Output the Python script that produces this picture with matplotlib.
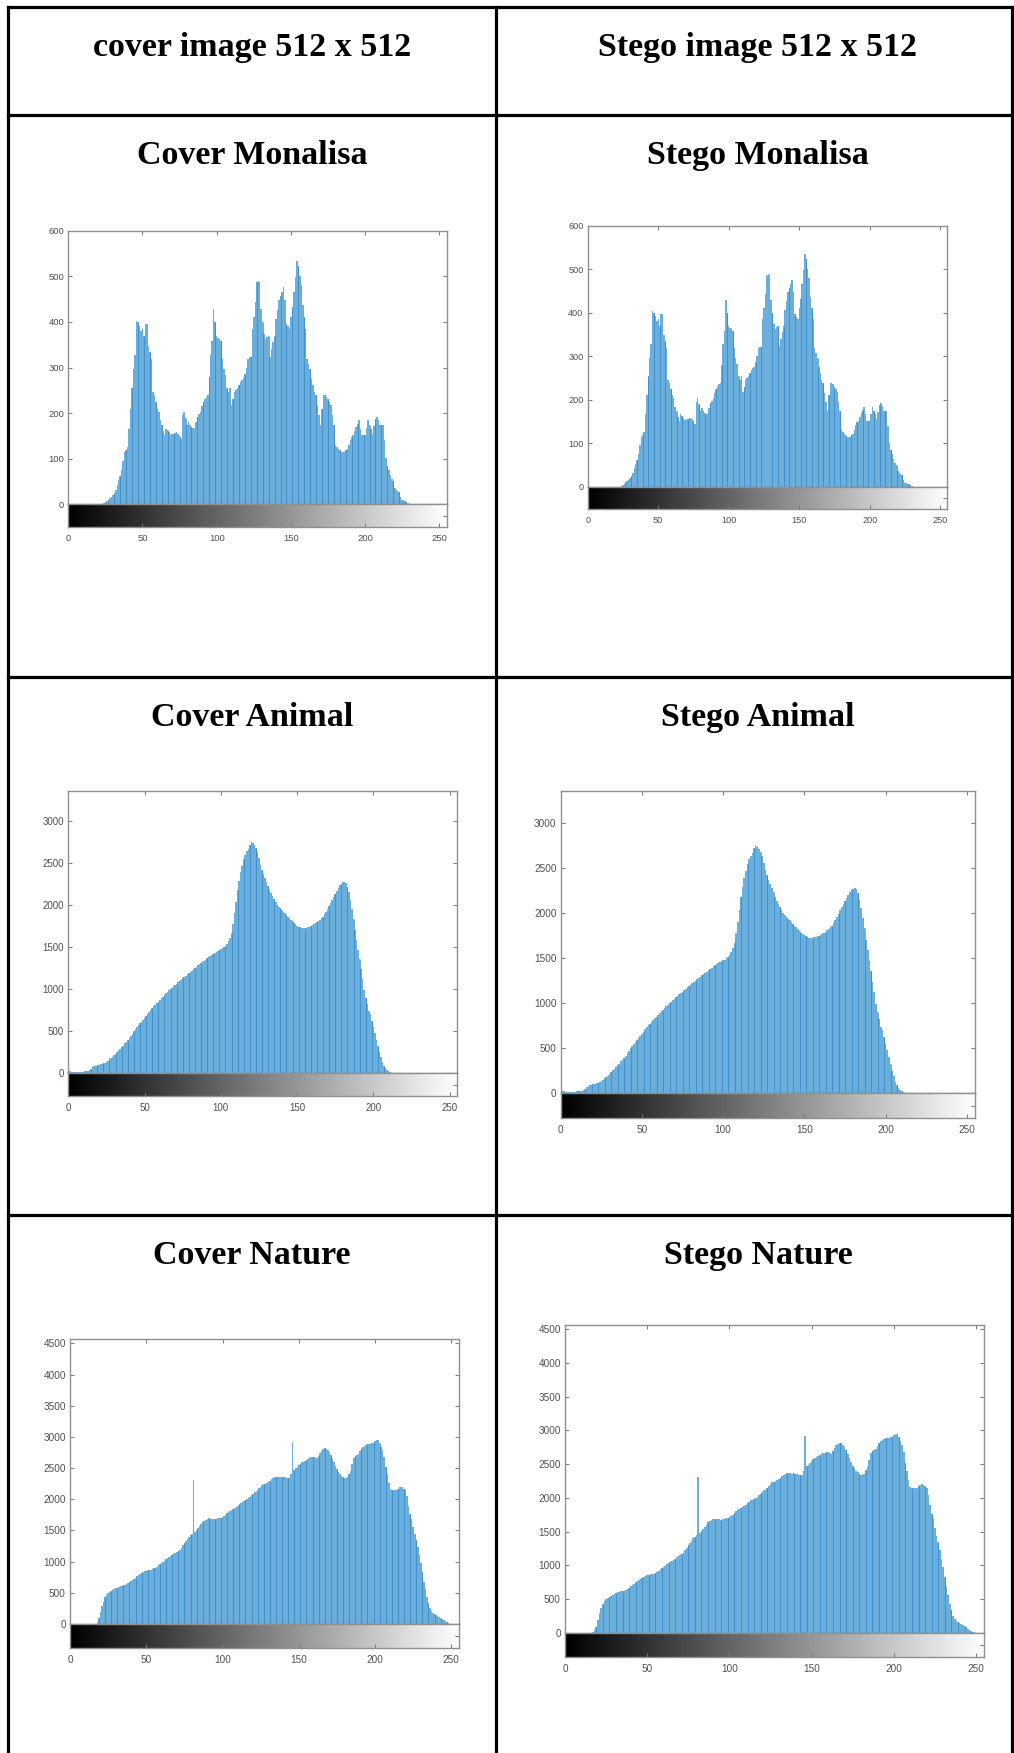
import numpy as np
import matplotlib
matplotlib.use("Agg")
import matplotlib.pyplot as plt
from matplotlib.lines import Line2D

plt.rcParams['font.family'] = ['Liberation Sans', 'DejaVu Sans']

# ---------------- data ----------------
header_labels = ["cover image 512 x 512", "Stego image 512 x 512"]
row_titles = [("Cover Monalisa", "Stego Monalisa"),
              ("Cover Animal", "Stego Animal"),
              ("Cover Nature", "Stego Nature")]

x_ticks = [0, 50, 100, 150, 200, 250]

monalisa_counts = [0] * 24 + [
    2, 4, 7, 10, 13, 16, 20, 25, 31, 42,
    53, 62, 75, 95, 115, 120, 125, 166, 210, 255,
    297, 327, 403, 400, 392, 381, 385, 370, 396, 396,
    348, 334, 319, 246, 239, 225, 210, 203, 184, 173,
    160, 152, 166, 163, 158, 153, 155, 155, 157, 159,
    155, 150, 144, 195, 203, 190, 173, 181, 175, 170,
    168, 166, 180, 192, 198, 203, 215, 224, 232, 236,
    239, 280, 327, 359, 429, 400, 370, 365, 362, 359,
    319, 297, 283, 254, 246, 254, 217, 230, 246, 250,
    254, 262, 268, 272, 276, 286, 300, 319, 322, 322,
    385, 410, 443, 487, 490, 487, 429, 400, 374, 363,
    366, 370, 323, 340, 355, 370, 407, 427, 447, 456,
    465, 476, 447, 396, 390, 385, 410, 432, 465, 498,
    534, 523, 500, 480, 436, 410, 385, 319, 308, 297,
    275, 261, 246, 239, 215, 195, 173, 210, 239, 239,
    235, 230, 225, 217, 195, 173, 130, 126, 122, 118,
    115, 115, 115, 118, 122, 130, 141, 148, 152, 160,
    170, 177, 184, 166, 152, 152, 152, 168, 184, 175,
    166, 155, 172, 188, 192, 185, 173, 173, 173, 140,
    101, 85, 75, 64, 55, 50, 35, 31, 29, 28,
    15, 9, 9, 7, 6, 3, 1] + [0] * 25

animal_counts = [
    20, 22, 20, 18, 15, 12, 10, 10, 12, 18,
    20, 24, 28, 30, 35, 50, 70, 85, 92, 96,
    99, 105, 112, 118, 125, 135, 150, 165, 178, 195,
    215, 235, 255, 272, 290, 310, 330, 355, 375, 395,
    416, 445, 470, 500, 525, 550, 570, 595, 615, 634,
    660, 685, 710, 733, 755, 775, 795, 815, 832, 852,
    872, 892, 912, 930, 950, 968, 985, 1000, 1018, 1035,
    1050, 1065, 1080, 1098, 1115, 1130, 1145, 1160, 1175, 1190,
    1205, 1220, 1235, 1252, 1268, 1282, 1296, 1310, 1325, 1338,
    1352, 1365, 1380, 1395, 1408, 1420, 1435, 1447, 1455, 1465,
    1475, 1485, 1500, 1515, 1535, 1570, 1610, 1665, 1780, 1900,
    2040, 2180, 2290, 2390, 2470, 2550, 2600, 2640, 2670, 2720,
    2755, 2740, 2715, 2680, 2630, 2560, 2480, 2420, 2370, 2320,
    2280, 2230, 2180, 2140, 2105, 2070, 2035, 2005, 1980, 1960,
    1940, 1922, 1900, 1880, 1860, 1843, 1825, 1805, 1785, 1770,
    1755, 1745, 1735, 1728, 1724, 1725, 1730, 1736, 1744, 1752,
    1760, 1772, 1785, 1795, 1808, 1825, 1845, 1863, 1890, 1920,
    1955, 1990, 2030, 2065, 2100, 2135, 2170, 2205, 2239, 2255,
    2270, 2279, 2265, 2220, 2150, 2060, 1950, 1830, 1705, 1590,
    1470, 1360, 1240, 1120, 990, 900, 820, 740, 700, 620,
    550, 476, 400, 320, 250, 190, 130, 90, 60, 40,
    28, 15, 8, 4, 2] + [0] * 41

nature_counts = [0] * 17 + [
    5, 40, 90,
    190, 290, 360, 430, 470, 495, 510, 530, 545, 556,
    570, 585, 599, 605, 612, 618, 625, 635, 650, 668,
    688, 705, 725, 745, 765, 786, 800, 815, 828, 842,
    855, 860, 866, 872, 876, 890, 905, 920, 940, 955,
    975, 995, 1015, 1037, 1052, 1068, 1085, 1100, 1118, 1135,
    1152, 1170, 1186, 1220, 1260, 1304, 1335, 1365, 1400, 1420,
    1445, 2310, 1480, 1515, 1540, 1570, 1605, 1641, 1655, 1668,
    1680, 1694, 1690, 1686, 1682, 1678, 1685, 1692, 1700, 1705,
    1710, 1730, 1750, 1775, 1801, 1818, 1835, 1850, 1866, 1881,
    1900, 1920, 1942, 1962, 1975, 1988, 2000, 2015, 2040, 2065,
    2090, 2110, 2122, 2150, 2175, 2200, 2229, 2240, 2252, 2265,
    2282, 2300, 2320, 2340, 2355, 2362, 2365, 2362, 2360, 2362,
    2355, 2350, 2345, 2340, 2336, 2400, 2920, 2470, 2495, 2520,
    2550, 2570, 2590, 2605, 2620, 2630, 2645, 2660, 2672, 2683,
    2675, 2665, 2656, 2700, 2745, 2780, 2805, 2817, 2810, 2790,
    2750, 2710, 2650, 2590, 2535, 2480, 2440, 2400, 2380, 2360,
    2345, 2336, 2360, 2410, 2460, 2560, 2660, 2690, 2705, 2720,
    2770, 2810, 2843, 2860, 2875, 2886, 2890, 2893, 2897, 2910,
    2930, 2945, 2950, 2900, 2840, 2790, 2680, 2523, 2400, 2260,
    2160, 2149, 2150, 2150, 2149, 2170, 2190, 2202, 2190, 2170,
    2149, 2050, 1900, 1760, 1680, 1560, 1440, 1347, 1230, 1100,
    973, 830, 680, 560, 430, 330, 250, 205, 180, 160,
    144, 128, 110, 95, 80, 60, 45, 25, 11, 5] + [0] * 6

# stego histograms are visually identical to the cover histograms
stego_monalisa_counts = monalisa_counts
stego_animal_counts = animal_counts
stego_nature_counts = nature_counts

monalisa_yticks = [0, 100, 200, 300, 400, 500, 600]
animal_yticks = [0, 500, 1000, 1500, 2000, 2500, 3000]
nature_yticks = [0, 500, 1000, 1500, 2000, 2500, 3000, 3500, 4000, 4500]

for arr in (monalisa_counts, animal_counts, nature_counts):
    assert len(arr) == 256, len(arr)

# ---------------- layout ----------------
W, H = 1014, 1753
fig = plt.figure(figsize=(W / 100, H / 100), dpi=100)
fig.patch.set_facecolor('white')


def rect(l, t, r, b):
    return [l / W, 1 - b / H, (r - l) / W, (b - t) / H]


def hline(y, x0, x1, lw=2.3):
    fig.add_artist(Line2D([x0 / W, x1 / W], [1 - y / H, 1 - y / H],
                          transform=fig.transFigure, color='black', lw=lw,
                          solid_capstyle='projecting'))


def vline(x, y0, y1, lw=2.3):
    fig.add_artist(Line2D([x / W, x / W], [1 - y0 / H, 1 - y1 / H],
                          transform=fig.transFigure, color='black', lw=lw,
                          solid_capstyle='projecting'))


# table grid
xl, xm, xr = 7.5, 496, 1012
for y in (7, 115, 677, 1215):
    hline(y, xl, xr)
for x in (xl, xm, xr):
    vline(x, 7, H + 5)

serif = dict(family='Liberation Serif', weight='bold', fontsize=24.5,
             ha='center', va='baseline', color='black')
fig.text(252 / W, 1 - 56 / H, header_labels[0], **serif)
fig.text(758 / W, 1 - 56 / H, header_labels[1], **serif)
for (lt, rt), yb in zip(row_titles, (164, 726, 1264)):
    fig.text(252 / W, 1 - yb / H, lt, **serif)
    fig.text(758 / W, 1 - yb / H, rt, **serif)

# histogram panels: data, ylim, yticks, (left, top, right, zero, cbar bottom), font
panels = [
    (monalisa_counts, 600, monalisa_yticks, (68.3, 230.7, 446.7, 504.3, 527.3), 6.8),
    (stego_monalisa_counts, 600, monalisa_yticks, (587.7, 225.7, 947.3, 486.7, 509.3), 6.6),
    (animal_counts, 3360, animal_yticks, (68.3, 790.7, 457.3, 1073.3, 1096.0), 7.0),
    (stego_animal_counts, 3360, animal_yticks, (560.7, 790.7, 975.0, 1093.3, 1118.3), 7.2),
    (nature_counts, 4565, nature_yticks, (70.0, 1339.3, 459.0, 1624.0, 1648.3), 7.2),
    (stego_nature_counts, 4565, nature_yticks, (565.0, 1325.0, 984.3, 1632.7, 1656.7), 7.2),
]

bar_color = '#6aaedc'
stripe_color = '#2f84c8'
spine_color = '#8f8f8f'
label_color = '#505050'
gradient = np.linspace(0, 1, 256)[None, :]

for counts, ymax, yt, (l, t, r, z, cb), fs in panels:
    bins = np.arange(256)
    vals = np.asarray(counts)
    ax = fig.add_axes(rect(l, t, r, z))
    ax.bar(bins, vals, width=1.0, color=bar_color, linewidth=0)
    sb = bins[3::4]
    ax.vlines(sb, 0, vals[sb], color=stripe_color, lw=0.6, alpha=0.8)
    ax.set_xlim(0, 255)
    ax.set_ylim(0, ymax)
    ax.set_xticks(x_ticks)
    ax.set_xticklabels([])
    ax.set_yticks(yt)
    ax.set_yticklabels([str(v) for v in yt])
    ax.tick_params(direction='in', length=3, width=0.7, color='#777777',
                   top=True, right=True, bottom=False,
                   labelsize=fs, labelcolor=label_color, pad=3)
    for sp in ax.spines.values():
        sp.set_color(spine_color)
        sp.set_linewidth(1.0)

    cax = fig.add_axes(rect(l, z, r, cb))
    cax.imshow(gradient, cmap='gray', aspect='auto', extent=[0, 255, 0, 1],
               interpolation='bilinear')
    cax.set_xlim(0, 255)
    cax.set_ylim(0, 1)
    cax.set_yticks([0.5])
    cax.set_yticklabels([])
    cax.set_xticks(x_ticks)
    cax.set_xticklabels([str(v) for v in x_ticks])
    cax.tick_params(direction='in', length=3, width=0.7, color='#777777',
                    left=False, right=True, labelsize=fs,
                    labelcolor=label_color, pad=5)
    for sp in cax.spines.values():
        sp.set_color(spine_color)
        sp.set_linewidth(1.0)

fig.savefig('out.png', dpi=100, facecolor='white')
